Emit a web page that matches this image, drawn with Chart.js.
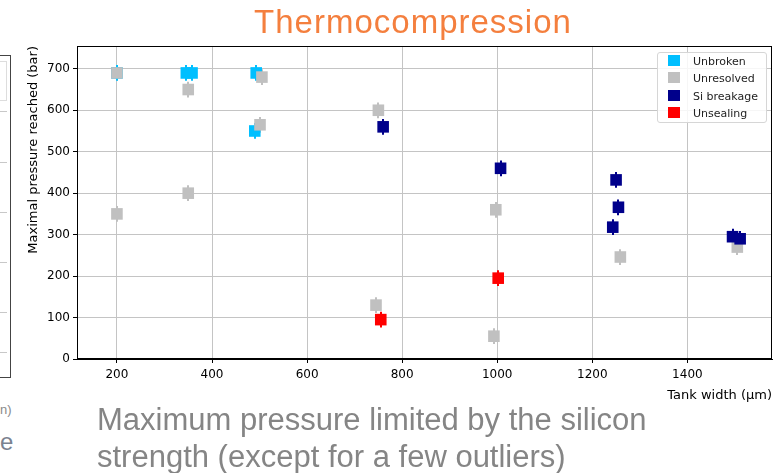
<!DOCTYPE html>
<html>
<head>
<meta charset="utf-8">
<script src="https://cdn.jsdelivr.net/npm/chart.js@4/dist/chart.umd.min.js"></script>
<style>
    body { margin: 0; background: #fff; width: 781px; height: 473px; overflow: hidden; position: relative; font-family: "Liberation Sans", Arial, sans-serif; }
    #wrap { position: absolute; left: 0; top: 0; width: 781px; height: 473px; }
    #title { position: absolute; left: 0; width: 826px; top: 3px; text-align: center; font-size: 33px; letter-spacing: 1px; color: #f47f3e; }
    #foot { position: absolute; left: 97px; top: 401px; font-size: 31px; line-height: 37px; color: #858585; white-space: nowrap; }
    #legend { position: absolute; left: 657px; top: 52px; width: 108px; height: 69px; border: 1px solid #d6d6d6; border-radius: 3px; background: rgba(255,255,255,0.85); font-family: "DejaVu Sans", sans-serif; font-size: 11px; color: #222; }
    #legend div { position: absolute; left: 10px; height: 14px; line-height: 14px; }
    #legend span { display: inline-block; width: 12px; height: 11px; vertical-align: -1px; margin-right: 13px; }
    #sliver { position: absolute; left: -4px; top: 55px; width: 13px; height: 321px; border: 1px solid #444; }
    .sl { position: absolute; left: 0; width: 10px; border-top: 1px solid #c8c8c8; }
    .st { position: absolute; left: 0; color: #8a8a8a; font-size: 13px; }
</style>
</head>
<body>
<div id="sliver">
    <div style="position:absolute;left:0;top:5px;width:8px;height:38px;border:1px solid #ddd;"></div>
    <div class="sl" style="top:55px"></div>
    <div class="sl" style="top:106px"></div>
    <div class="sl" style="top:156px"></div>
    <div class="sl" style="top:206px"></div>
    <div class="sl" style="top:256px"></div>
    <div class="sl" style="top:296px"></div>
</div>
<div class="st" style="top:402px;">n)</div>
<div class="st" style="top:428px;font-size:24px;color:#7a8290;">e</div>
<div id="wrap"><canvas id="chart" width="781" height="473"></canvas></div>
<div id="title">Thermocompression</div>
<div id="foot">Maximum pressure limited by the silicon<br>strength (except for a few outliers)</div>
<div id="legend"></div>
<script>
const seriesNames = ['Unbroken', 'Unresolved', 'Si breakage', 'Unsealing'];
const seriesColors = ['#00bfff', '#c0c0c0', '#00008b', '#ff0000'];

const unbroken = [
    { x: 200, y: 690 }, { x: 346, y: 690 }, { x: 358, y: 690 },
    { x: 493, y: 690 }, { x: 490, y: 550 }
];
const unresolved = [
    { x: 200, y: 690 }, { x: 200, y: 350 }, { x: 350, y: 400 }, { x: 350, y: 650 },
    { x: 505, y: 680 }, { x: 501, y: 565 }, { x: 750, y: 600 }, { x: 745, y: 130 },
    { x: 997, y: 360 }, { x: 993, y: 55 }, { x: 1259, y: 246 }, { x: 1505, y: 270 }
];
const siBreakage = [
    { x: 760, y: 560 }, { x: 1007, y: 460 }, { x: 1250, y: 432 }, { x: 1255, y: 366 },
    { x: 1243, y: 318 }, { x: 1495, y: 295 }, { x: 1511, y: 290 }
];
const unsealing = [
    { x: 755, y: 95 }, { x: 1002, y: 195 }
];
const errorBar = 19;

const xTicks = [200, 400, 600, 800, 1000, 1200, 1400];
const yTicks = [0, 100, 200, 300, 400, 500, 600, 700];

const allSeries = [unbroken, unresolved, siBreakage, unsealing];

// legend inside the plot, top right
const legendEl = document.getElementById('legend');
seriesNames.forEach(function (name, i) {
    const row = document.createElement('div');
    row.style.top = (2 + i * 17.3) + 'px';
    row.innerHTML = '<span style="background:' + seriesColors[i] + '"></span>' + name;
    legendEl.appendChild(row);
});

const errorBars = {
    id: 'errorBars',
    beforeDatasetsDraw: function (chart) {
        const ctx = chart.ctx;
        const xs = chart.scales.x, ys = chart.scales.y;
        ctx.save();
        ctx.lineWidth = 2;
        chart.data.datasets.slice().reverse().forEach(function (ds) {
            ctx.strokeStyle = ds.backgroundColor;
            ds.data.forEach(function (p) {
                const px = Math.round(xs.getPixelForValue(p.x));
                ctx.beginPath();
                ctx.moveTo(px, ys.getPixelForValue(p.y - errorBar));
                ctx.lineTo(px, ys.getPixelForValue(p.y + errorBar));
                ctx.stroke();
            });
        });
        ctx.restore();
    },
    afterDraw: function (chart) {
        const a = chart.chartArea, ctx = chart.ctx;
        ctx.save();
        ctx.strokeStyle = '#000';
        ctx.lineWidth = 1;
        ctx.strokeRect(a.left + 0.5, a.top + 0.5, a.right - a.left - 1, a.bottom - a.top - 1);
        ctx.restore();
    }
};

const tickFont = { family: 'DejaVu Sans', size: 12 };
const labelFont = { family: 'DejaVu Sans', size: 13 };

new Chart(document.getElementById('chart').getContext('2d'), {
    type: 'scatter',
    data: {
        datasets: allSeries.map(function (pts, i) {
            return {
                label: seriesNames[i],
                data: pts,
                backgroundColor: seriesColors[i],
                borderColor: seriesColors[i],
                borderWidth: 0,
                pointStyle: 'rect',
                pointRadius: 8.2,
                pointHoverRadius: 8.2,
                order: 4 - i
            };
        })
    },
    options: {
        responsive: false,
        animation: false,
        events: [],
        layout: { padding: { left: 26, right: 9, top: 46, bottom: 70 } },
        plugins: { legend: { display: false }, tooltip: { enabled: false } },
        scales: {
            x: {
                type: 'linear',
                min: 116,
                max: 1578,
                afterBuildTicks: function (s) { s.ticks = xTicks.map(function (v) { return { value: v }; }); },
                afterFit: function (s) { s.height = 44; },
                ticks: { color: '#000', font: tickFont, padding: 5, callback: function (v) { return String(v); } },
                grid: { color: '#c4c4c4', lineWidth: 1, tickLength: 4, tickColor: '#000' },
                border: { display: true, color: '#000' },
                title: { display: true, text: 'Tank width (\u03bcm)', align: 'end', color: '#000', font: labelFont, padding: { top: 2, bottom: 0 } }
            },
            y: {
                min: 0,
                max: 755,
                afterBuildTicks: function (s) { s.ticks = yTicks.map(function (v) { return { value: v }; }); },
                afterFit: function (s) { s.width = 51; },
                ticks: { color: '#000', font: tickFont, padding: 3, callback: function (v) { return String(v); } },
                grid: { color: '#c4c4c4', lineWidth: 1, tickLength: 4, tickColor: '#000' },
                border: { display: true, color: '#000' },
                title: { display: true, text: 'Maximal pressure reached (bar)', align: 'end', color: '#000', font: labelFont, padding: { top: 0, bottom: 2 } }
            }
        }
    },
    plugins: [errorBars]
});
</script>
</body>
</html>
